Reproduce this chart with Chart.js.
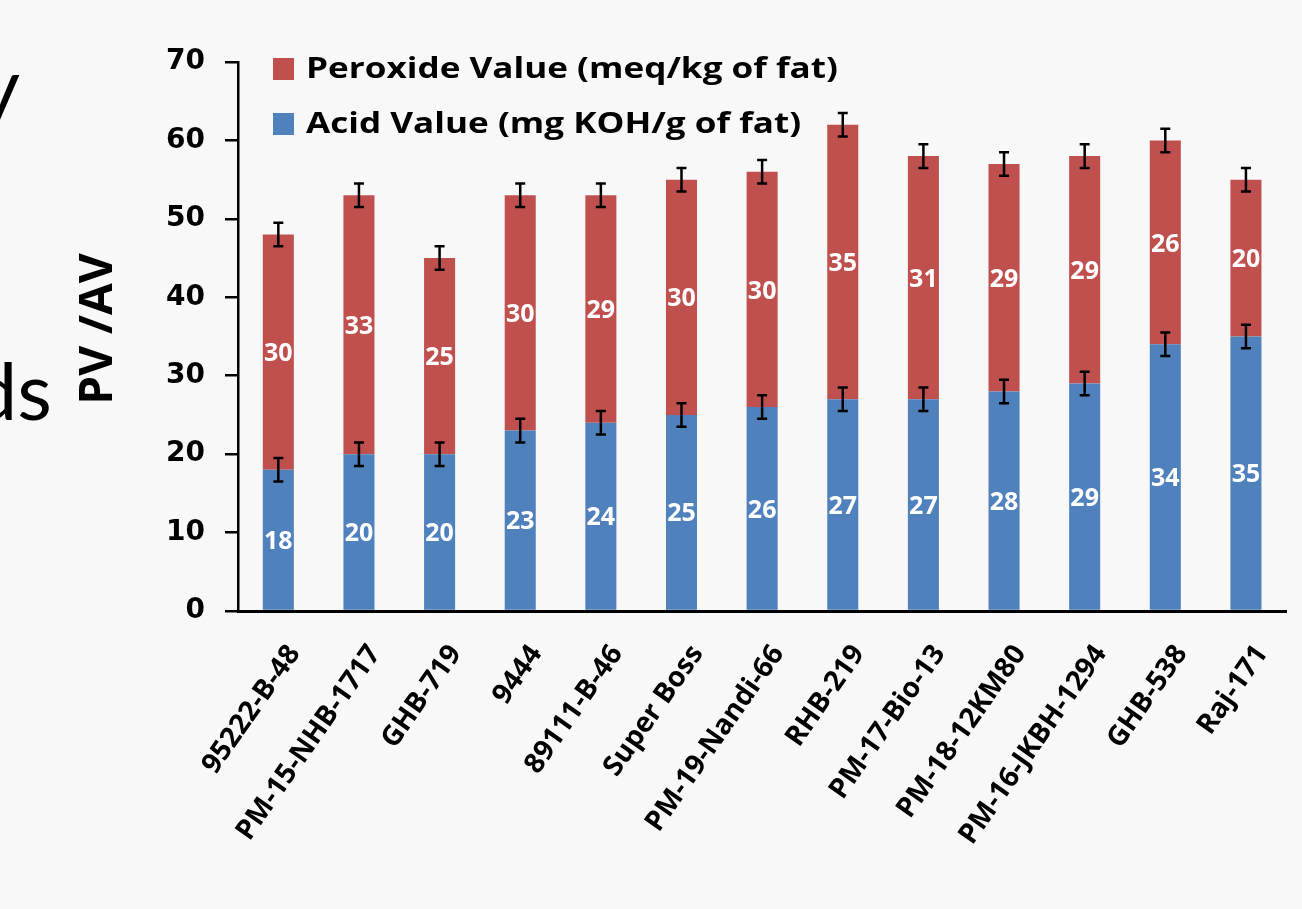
<!DOCTYPE html>
<html lang="en">
<head>
    <meta charset="UTF-8">
    <title>PV / AV</title>
    <script src="https://cdn.jsdelivr.net/npm/chart.js"></script>
    <style>
        body {
            margin: 0;
            background-color: #f8f8f8;
            overflow: hidden;
        }

        .wrap {
            position: relative;
            width: 1302px;
            height: 909px;
        }

        .slide-text {
            position: absolute;
            font-family: 'Lato', sans-serif;
            font-size: 80px;
            line-height: 80px;
            color: #000;
            text-align: right;
            white-space: nowrap;
        }
    </style>
</head>
<body>
    <div class="wrap">
        <!-- bits of the slide text cut off at the left edge -->
        <div class="slide-text" style="left:-180px; width:200px; top:44px;">y</div>
        <div class="slide-text" style="left:-150px; width:202px; top:349px;">ds</div>
        <canvas id="pvChart" width="1302" height="909"></canvas>
    </div>

    <script>
        // data
        const categories = ['95222-B-48', 'PM-15-NHB-1717', 'GHB-719', '9444', '89111-B-46', 'Super Boss',
            'PM-19-Nandi-66', 'RHB-219', 'PM-17-Bio-13', 'PM-18-12KM80', 'PM-16-JKBH-1294', 'GHB-538', 'Raj-171'];
        const acidValues = [18, 20, 20, 23, 24, 25, 26, 27, 27, 28, 29, 34, 35];
        const peroxideValues = [30, 33, 25, 30, 29, 30, 30, 35, 31, 29, 29, 26, 20];
        const acidErrors = [1.5, 1.5, 1.5, 1.5, 1.5, 1.5, 1.5, 1.5, 1.5, 1.5, 1.5, 1.5, 1.5];
        const peroxideErrors = [1.5, 1.5, 1.5, 1.5, 1.5, 1.5, 1.5, 1.5, 1.5, 1.5, 1.5, 1.5, 1.5];
        const yTicks = [0, 10, 20, 30, 40, 50, 60, 70];

        const RED = '#c0504d';
        const BLUE = '#4f81bd';
        const FONT = "'Open Sans', sans-serif";

        // error bars on top of each stacked segment
        const errorBars = {
            id: 'errorBars',
            afterDatasetsDraw(chart) {
                const ctx = chart.ctx;
                const yScale = chart.scales.y;
                ctx.save();
                ctx.strokeStyle = '#000';
                ctx.lineWidth = 2.5;
                chart.data.datasets.forEach((ds, di) => {
                    const meta = chart.getDatasetMeta(di);
                    meta.data.forEach((bar, i) => {
                        let top = 0;
                        for (let k = 0; k <= di; k++) top += chart.data.datasets[k].data[i];
                        const err = ds.errors[i];
                        const y1 = yScale.getPixelForValue(top + err);
                        const y2 = yScale.getPixelForValue(top - err);
                        const x = bar.x;
                        ctx.beginPath();
                        ctx.moveTo(x, y1);
                        ctx.lineTo(x, y2);
                        ctx.moveTo(x - 5, y1);
                        ctx.lineTo(x + 5, y1);
                        ctx.moveTo(x - 5, y2);
                        ctx.lineTo(x + 5, y2);
                        ctx.stroke();
                    });
                });
                ctx.restore();
            }
        };

        // white value labels in the middle of each segment
        const valueLabels = {
            id: 'valueLabels',
            afterDatasetsDraw(chart) {
                const ctx = chart.ctx;
                ctx.save();
                ctx.fillStyle = '#fff';
                ctx.font = 'bold 25px ' + FONT;
                ctx.textAlign = 'center';
                ctx.textBaseline = 'middle';
                chart.data.datasets.forEach((ds, di) => {
                    chart.getDatasetMeta(di).data.forEach((bar, i) => {
                        const c = bar.getCenterPoint();
                        ctx.fillText(ds.data[i], c.x, c.y + 2);
                    });
                });
                ctx.restore();
            }
        };

        // legend inside the plot and the y title
        const extras = {
            id: 'extras',
            afterDraw(chart) {
                const ctx = chart.ctx;
                const area = chart.chartArea;
                ctx.save();
                ctx.font = 'bold 29px ' + FONT;
                ctx.textBaseline = 'middle';
                ctx.textAlign = 'left';
                const items = [
                    { text: 'Peroxide Value (meq/kg of fat)', color: RED, y: 69 },
                    { text: 'Acid Value (mg KOH/g of fat)', color: BLUE, y: 124 }
                ];
                items.forEach(it => {
                    ctx.fillStyle = it.color;
                    ctx.fillRect(area.left + 35, it.y - 11, 21, 22);
                    ctx.fillStyle = '#000';
                    ctx.save();
                    ctx.translate(area.left + 68, it.y + 1);
                    ctx.scale(1.21, 1);
                    ctx.fillText(it.text, 0, 0);
                    ctx.restore();
                });

                ctx.translate(97, 329);
                ctx.rotate(-Math.PI / 2);
                ctx.font = 'bold 46px ' + FONT;
                ctx.textAlign = 'center';
                ctx.fillText('PV /AV', 0, 2);
                ctx.restore();
            }
        };

        const ctx = document.getElementById('pvChart').getContext('2d');
        new Chart(ctx, {
            type: 'bar',
            data: {
                labels: categories,
                datasets: [{
                    label: 'Acid Value (mg KOH/g of fat)',
                    data: acidValues,
                    errors: acidErrors,
                    backgroundColor: BLUE,
                    barPercentage: 0.385,
                    categoryPercentage: 1
                }, {
                    label: 'Peroxide Value (meq/kg of fat)',
                    data: peroxideValues,
                    errors: peroxideErrors,
                    backgroundColor: RED,
                    barPercentage: 0.385,
                    categoryPercentage: 1
                }]
            },
            options: {
                responsive: false,
                animation: false,
                layout: {
                    padding: { top: 62, right: 14, left: 0, bottom: 0 }
                },
                plugins: {
                    legend: { display: false },
                    tooltip: { enabled: false }
                },
                scales: {
                    x: {
                        stacked: true,
                        grid: { display: true, drawOnChartArea: false, drawTicks: false },
                        border: { display: true, color: '#000', width: 3 },
                        ticks: {
                            color: '#000',
                            font: { family: FONT, size: 28, weight: 'bold' },
                            minRotation: 55,
                            maxRotation: 55,
                            padding: 28,
                            labelOffset: 16,
                            autoSkip: false
                        },
                        afterFit(scale) { scale.height = 298; }
                    },
                    y: {
                        stacked: true,
                        min: yTicks[0],
                        max: yTicks[yTicks.length - 1],
                        afterBuildTicks(scale) {
                            scale.ticks = yTicks.map(v => ({ value: v }));
                        },
                        grid: {
                            drawOnChartArea: false,
                            drawTicks: true,
                            tickLength: 13,
                            color: '#000',
                            lineWidth: 2.5
                        },
                        border: { display: true, color: '#000', width: 2.5 },
                        ticks: {
                            color: '#000',
                            font: { family: "'DejaVu Sans', sans-serif", size: 28, weight: 'bold' },
                            padding: 20
                        },
                        afterFit(scale) { scale.width = 238; }
                    }
                }
            },
            plugins: [errorBars, valueLabels, extras]
        });
    </script>
</body>
</html>
